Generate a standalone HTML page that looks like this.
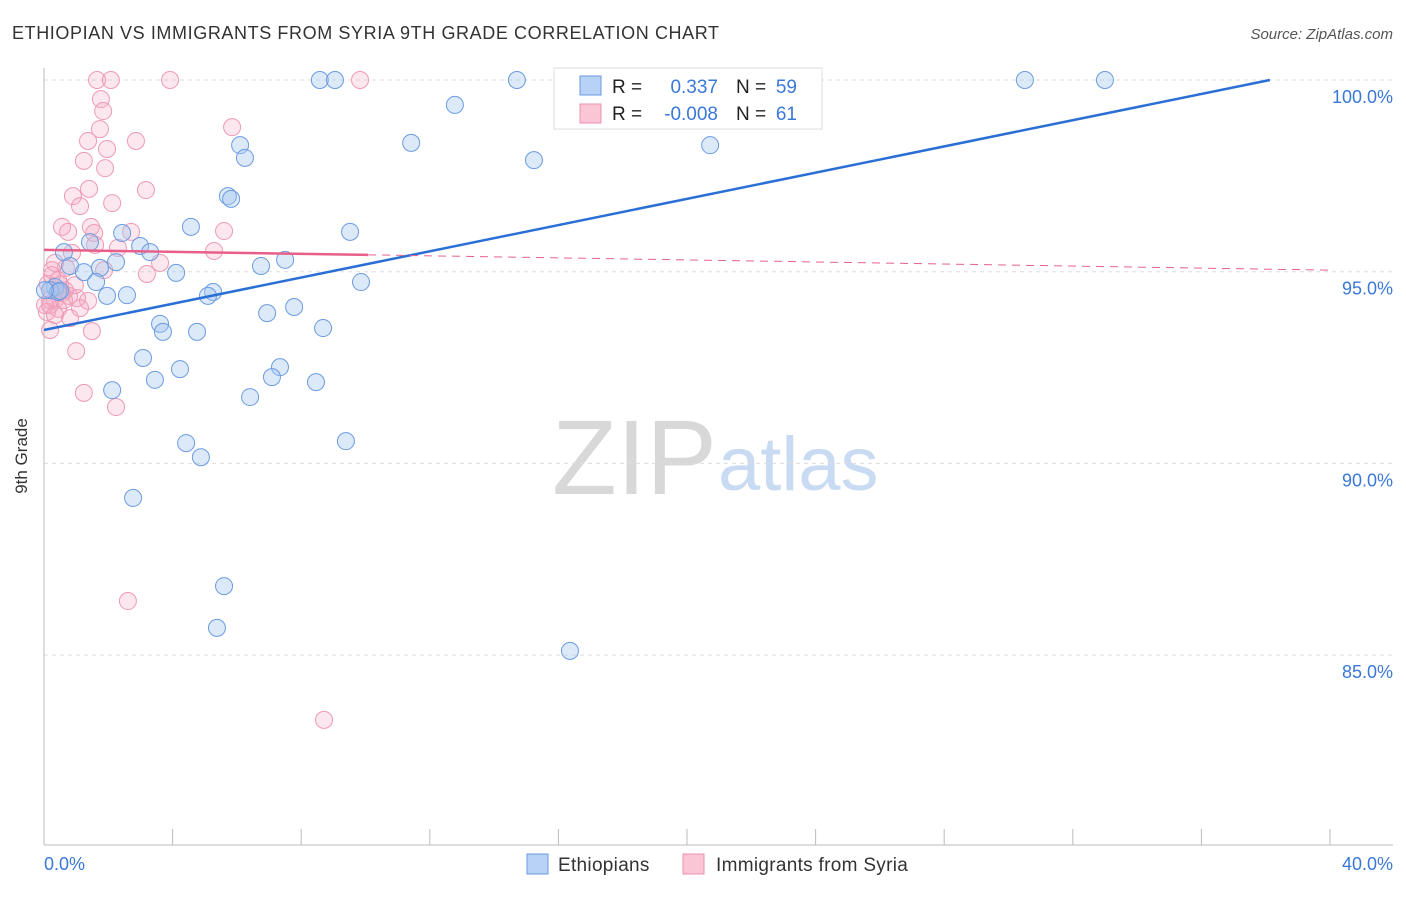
<!DOCTYPE html>
<html><head><meta charset="utf-8"><style>
body{margin:0;background:#fff;font-family:"Liberation Sans",sans-serif}
svg text{font-family:"Liberation Sans",sans-serif}
</style></head><body>
<svg id="chart" width="1406" height="892" xmlns="http://www.w3.org/2000/svg">
<text x="12" y="39" font-size="18" letter-spacing="0.6" fill="#333">ETHIOPIAN VS IMMIGRANTS FROM SYRIA 9TH GRADE CORRELATION CHART</text>
<text x="1393" y="39" font-size="15" fill="#555" font-style="italic" text-anchor="end">Source: ZipAtlas.com</text>
<text x="552" y="494" font-size="106" fill="#d8d8d8" font-family="Liberation Serif,serif">ZIP</text>
<text x="718" y="490" font-size="76" fill="#c9dbf2">atlas</text>
<g id="grid"></g>
<line x1="44" y1="68" x2="44" y2="845" stroke="#bbb"/>
<line x1="44" y1="845" x2="1393" y2="845" stroke="#bbb"/>
<text x="27" y="456" font-size="17" fill="#333" transform="rotate(-90 27 456)" text-anchor="middle">9th Grade</text>
<text x="44" y="870" font-size="18" fill="#3a78d8">0.0%</text>
<text x="1393" y="870" font-size="18" fill="#3a78d8" text-anchor="end">40.0%</text>
<g id="points"></g>
<g id="trends"></g>
<g>
<rect x="554" y="68" width="268" height="61" fill="#fff" stroke="#ddd"/>
<rect x="580" y="76" width="21" height="19" fill="#b8d2f5" stroke="#6a9ae0"/>
<rect x="580" y="104" width="21" height="19" fill="#fac6d6" stroke="#ec90ad"/>
<text x="612" y="93" font-size="19" fill="#222">R =</text>
<text x="718" y="93" font-size="19" fill="#3a78d8" text-anchor="end">0.337</text>
<text x="736" y="93" font-size="19" fill="#222">N =</text>
<text x="797" y="93" font-size="19" fill="#3a78d8" text-anchor="end">59</text>
<text x="612" y="120" font-size="19" fill="#222">R =</text>
<text x="718" y="120" font-size="19" fill="#3a78d8" text-anchor="end">-0.008</text>
<text x="736" y="120" font-size="19" fill="#222">N =</text>
<text x="797" y="120" font-size="19" fill="#3a78d8" text-anchor="end">61</text>
</g>
<g>
<rect x="527" y="854" width="21" height="20" fill="#b8d2f5" stroke="#6a9ae0"/>
<text x="558" y="871" font-size="19" letter-spacing="0.3" fill="#333">Ethiopians</text>
<rect x="683" y="854" width="21" height="20" fill="#fac6d6" stroke="#ec90ad"/>
<text x="716" y="871" font-size="19" letter-spacing="0.3" fill="#333">Immigrants from Syria</text>
</g>
</svg>
<script>
const yTicks=[100,95,90,85];
const yTickLabels=["100.0%","95.0%","90.0%","85.0%"];
const xTicks=[0,4,8,12,16,20,24,28,32,36,40];
const blueX=[8.58,9.05,14.71,30.51,33.0,12.78,6.10,11.42,20.72,6.25,15.24,5.72,5.82,4.57,9.52,2.43,2.99,3.30,0.62,1.43,2.24,6.75,7.50,0.81,1.24,1.74,4.11,1.62,9.86,0.34,0.19,0.44,1.96,2.58,5.26,5.10,7.78,6.94,3.61,3.70,4.76,8.68,3.08,7.34,7.09,4.23,3.45,8.46,2.12,6.41,4.42,9.39,4.88,2.77,5.60,5.38,16.36,0.50,0.03];
const blueY=[100,100,100,100,100,99.35,98.30,98.36,98.30,97.97,97.91,96.97,96.90,96.17,96.04,96.01,95.67,95.51,95.51,95.77,95.25,95.15,95.31,95.15,94.99,95.10,94.97,94.73,94.73,94.60,94.52,94.47,94.37,94.39,94.47,94.37,94.08,93.92,93.64,93.43,93.43,93.53,92.75,92.51,92.25,92.46,92.18,92.12,91.91,91.73,90.53,90.58,90.16,89.10,86.80,85.71,85.11,94.50,94.52];
const pinkX=[1.65,2.08,3.92,9.83,1.77,1.84,5.85,1.74,1.37,2.86,1.96,1.24,1.90,3.17,1.40,0.90,1.12,2.12,0.56,1.46,0.75,1.56,2.71,5.60,1.59,2.30,5.29,0.87,0.34,3.61,1.87,0.68,3.20,0.25,0.12,0.56,0.78,1.03,1.37,1.12,0.44,0.19,0.81,0.09,0.19,1.49,1.00,1.24,2.24,2.61,8.71,0.34,0.65,0.25,0.50,0.03,0.44,0.96,0.19,0.62,0.34];
const pinkY=[100,100,100,100,99.50,99.19,98.77,98.72,98.41,98.41,98.20,97.89,97.70,97.13,97.16,96.97,96.71,96.79,96.17,96.17,96.04,96.01,96.04,96.06,95.70,95.62,95.54,95.49,95.23,95.23,95.04,95.10,94.94,94.91,94.68,94.44,94.37,94.31,94.24,94.05,94.03,94.26,93.79,93.95,93.48,93.45,92.93,91.84,91.47,86.41,83.31,94.26,94.52,95.04,94.65,94.13,94.78,94.65,94.13,94.26,93.87];
const blueTrend=[[0,93.48],[38.13,100]];
const pinkTrend=[[0,95.57],[10.08,95.44],[40,95.04]];
const NS="http://www.w3.org/2000/svg";
const sx=v=>44+v*32.15;
const sy=v=>80+(100-v)*38.34;
function mk(tag,attrs,parent){const e=document.createElementNS(NS,tag);for(const k in attrs)e.setAttribute(k,attrs[k]);parent.appendChild(e);return e;}
const grid=document.getElementById('grid');
yTicks.forEach((t,i)=>{
  const l=mk('line',{x1:44,x2:1393,y1:sy(t),y2:sy(t),stroke:'#ddd','stroke-dasharray':'4,4'},grid);
  
  
  const tx=mk('text',{x:1393,y:sy(t)+23,'font-size':18,fill:'#3a78d8','text-anchor':'end'},grid);
  tx.textContent=yTickLabels[i];
  
  
});
xTicks.forEach(t=>{
  const l=mk('line',{x1:sx(t),x2:sx(t),y1:829,y2:845,stroke:'#bbb'},grid);
  
  
});
const pts=document.getElementById('points');
pinkX.forEach((x,i)=>{
  const c=mk('circle',{cx:sx(x),cy:sy(pinkY[i]),r:8.5,fill:'rgba(246,170,195,0.28)',stroke:'#ee9ab4','stroke-width':1},pts);
  
  
});
blueX.forEach((x,i)=>{
  const c=mk('circle',{cx:sx(x),cy:sy(blueY[i]),r:8.5,fill:'rgba(160,196,240,0.38)',stroke:'#6c9be0','stroke-width':1},pts);
  
  
});
const tr=document.getElementById('trends');
const bl=mk('line',{x1:sx(blueTrend[0][0]),y1:sy(blueTrend[0][1]),x2:sx(blueTrend[1][0]),y2:sy(blueTrend[1][1]),stroke:'#2a6fd6','stroke-width':2.5},tr);


const pl=mk('line',{x1:sx(pinkTrend[0][0]),y1:sy(pinkTrend[0][1]),x2:sx(pinkTrend[1][0]),y2:sy(pinkTrend[1][1]),stroke:'#e8608a','stroke-width':2.5},tr);


const pd=mk('line',{x1:sx(pinkTrend[1][0]),y1:sy(pinkTrend[1][1]),x2:sx(pinkTrend[2][0]),y2:sy(pinkTrend[2][1]),stroke:'#e8608a','stroke-width':1,'stroke-dasharray':'8,6'},tr);


</script>
</body></html>
